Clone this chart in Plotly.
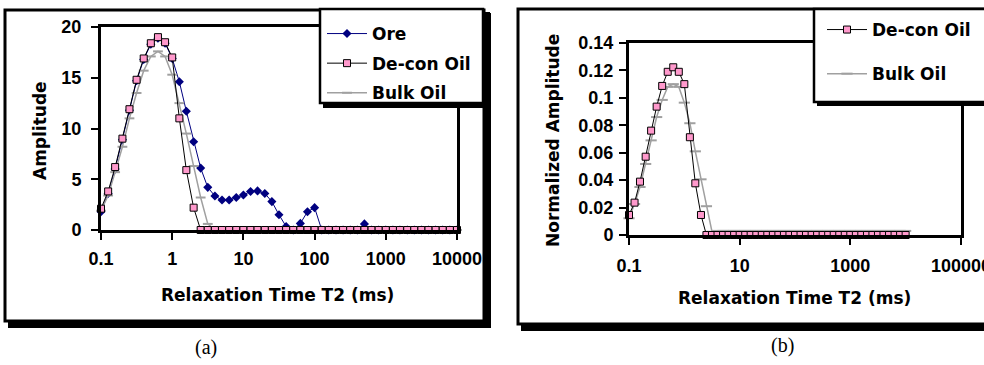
import plotly.graph_objects as go

W, H = 984, 365

# ---------------- data ----------------
T2_MS = [0.1, 0.126, 0.158, 0.2, 0.251, 0.316, 0.398, 0.501, 0.631, 0.794,
         1, 1.26, 1.58, 2, 2.51, 3.16, 3.98, 5.01, 6.31, 7.94,
         10, 12.6, 15.8, 20, 25.1, 31.6, 39.8, 50.1, 63.1, 79.4,
         100, 126, 158, 200, 251, 316, 398, 501, 631, 794,
         1000, 1260, 1580, 2000, 2510, 3160, 3980, 5010, 6310, 7940,
         10000]

ORE_A = [1.8, 3.6, 6.0, 8.9, 11.8, 14.7, 16.8, 18.3, 18.9, 18.4,
         16.9, 14.6, 11.7, 8.7, 6.1, 4.2, 3.35, 2.95, 2.95, 3.2,
         3.45, 3.8, 3.85, 3.6, 2.8, 1.5, 0.35, 0, 0.65, 1.8,
         2.2, 0, 0, 0, 0, 0, 0, 0.6, 0, 0,
         0, 0, 0, 0, 0, 0, 0, 0, 0, 0,
         0]
DECON_A = [2.1, 3.8, 6.2, 9.0, 11.9, 14.8, 16.9, 18.4, 19.0, 18.5,
           17.0, 11.0, 5.9, 2.2, 0, 0, 0, 0, 0, 0,
           0, 0, 0, 0, 0, 0, 0, 0, 0, 0,
           0, 0, 0, 0, 0, 0, 0, 0, 0, 0,
           0, 0, 0, 0, 0, 0, 0, 0, 0, 0,
           0]
BULK_A = [1.9, 3.4, 5.7, 8.2, 11.0, 13.5, 15.7, 17.1, 17.6, 17.1,
          15.3, 12.5, 9.5, 6.3, 3.2, 0.6, 0, 0, 0, 0,
          0, 0, 0, 0, 0, 0, 0, 0, 0, 0,
          0, 0, 0, 0, 0, 0, 0, 0, 0, 0,
          0, 0, 0, 0, 0, 0, 0, 0, 0, 0,
          0]
DECON_B = [0.0146, 0.0236, 0.0389, 0.0571, 0.0761, 0.0936, 0.1087, 0.119, 0.1223, 0.119,
           0.110, 0.0713, 0.0377, 0.0146, 0, 0, 0, 0, 0, 0,
           0, 0, 0, 0, 0, 0, 0, 0, 0, 0,
           0, 0, 0, 0, 0, 0, 0, 0, 0, 0,
           0, 0, 0, 0, 0, 0, 0, 0, 0, 0,
           0]
BULK_B = [0.0122, 0.0226, 0.035, 0.0518, 0.069, 0.086, 0.0985, 0.108, 0.110, 0.108,
          0.0965, 0.0815, 0.061, 0.0406, 0.021, 0.0024, 0.003, 0.003, 0.003, 0.003,
          0.003, 0.003, 0.003, 0.003, 0.003, 0.003, 0.003, 0.003, 0.003, 0.003,
          0.003, 0.003, 0.003, 0.003, 0.003, 0.003, 0.003, 0.003, 0.003, 0.003,
          0.003, 0.003, 0.003, 0.003, 0.003, 0.003, 0.003, 0.003, 0.003, 0.003,
          0.003]

XTICKS_A = [0.1, 1, 10, 100, 1000, 10000]
XTICKTEXT_A = ["0.1", "1", "10", "100", "1000", "10000"]
YTICKS_A = [0, 5, 10, 15, 20]
XTICKS_B = [0.1, 10, 1000, 100000]
XTICKTEXT_B = ["0.1", "10", "1000", "100000"]
YTICKS_B = [0, 0.02, 0.04, 0.06, 0.08, 0.1, 0.12, 0.14]
YTICKTEXT_B = ["0", "0.02", "0.04", "0.06", "0.08", "0.1", "0.12", "0.14"]

# ---------------- styles ----------------
PINK = "#ff99cc"
NAVY = "#000080"
GRAY = "#a0a0a0"
TICKFONT = dict(family="Liberation Sans", size=18, color="black", weight="bold")
TITLEFONT = dict(family="DejaVu Sans", size=17, color="black", weight="bold")


def px(x):
    return x / W


def py(y):
    return 1 - y / H


fig = go.Figure()

# chart (a)
fig.add_trace(go.Scatter(x=T2_MS, y=ORE_A, name="Ore", mode="lines+markers",
                         line=dict(color=NAVY, width=1),
                         marker=dict(symbol="diamond", size=7, color=NAVY),
                         xaxis="x", yaxis="y", legend="legend", legendrank=1,
                         legendgroup="a1", cliponaxis=False))
fig.add_trace(go.Scatter(x=T2_MS, y=BULK_A, name="Bulk Oil", mode="lines+markers",
                         line=dict(color=GRAY, width=1.5),
                         marker=dict(symbol="line-ew", size=7, color=GRAY,
                                     line=dict(color=GRAY, width=2)),
                         xaxis="x", yaxis="y", legend="legend", legendrank=3,
                         legendgroup="a3", cliponaxis=False))
fig.add_trace(go.Scatter(x=T2_MS, y=DECON_A, name="De-con Oil", mode="lines+markers",
                         line=dict(color="black", width=1),
                         marker=dict(symbol="square", size=7, color=PINK,
                                     line=dict(color="black", width=1)),
                         xaxis="x", yaxis="y", legend="legend", legendrank=2,
                         legendgroup="a2", cliponaxis=False))

# chart (b)
fig.add_trace(go.Scatter(x=T2_MS, y=BULK_B, name="Bulk Oil", mode="lines+markers",
                         line=dict(color=GRAY, width=1.5),
                         marker=dict(symbol="line-ew", size=8, color=GRAY,
                                     line=dict(color=GRAY, width=2)),
                         xaxis="x2", yaxis="y2", legend="legend2", legendrank=2,
                         legendgroup="b2", cliponaxis=False))
fig.add_trace(go.Scatter(x=T2_MS, y=DECON_B, name="De-con Oil", mode="lines+markers",
                         line=dict(color="black", width=1),
                         marker=dict(symbol="square", size=7, color=PINK,
                                     line=dict(color="black", width=1)),
                         xaxis="x2", yaxis="y2", legend="legend2", legendrank=1,
                         legendgroup="b1", cliponaxis=False))

axis_common = dict(showline=True, mirror=True, linecolor="black", linewidth=3,
                   ticks="outside", ticklen=7, tickwidth=2, tickcolor="black",
                   showgrid=False, zeroline=False, tickfont=TICKFONT,
                   fixedrange=True, automargin=False, ticklabeloverflow="allow")

fig.update_layout(
    template="none",
    width=W, height=H,
    margin=dict(l=0, r=0, t=0, b=0, pad=0, autoexpand=False),
    paper_bgcolor="white",
    plot_bgcolor="rgba(0,0,0,0)",
    xaxis=dict(type="log", range=[-1, 4], domain=[px(101), px(457)], anchor="y",
               tickmode="array", tickvals=XTICKS_A, ticktext=XTICKTEXT_A,
               ticklabelstandoff=3, **axis_common),
    yaxis=dict(range=[0, 20], domain=[py(230), py(27)], anchor="x",
               tickmode="array", tickvals=YTICKS_A,
               ticklabelstandoff=6, **axis_common),
    xaxis2=dict(type="log", range=[-1, 5.0005], domain=[px(629), px(961)], anchor="y2",
                tickmode="array", tickvals=XTICKS_B, ticktext=XTICKTEXT_B,
                ticklabelstandoff=5, **axis_common),
    yaxis2=dict(range=[0, 0.14], domain=[py(235), py(43)], anchor="x2",
                tickmode="array", tickvals=YTICKS_B, ticktext=YTICKTEXT_B,
                ticklabelstandoff=2, **axis_common),
    legend=dict(x=px(322), y=py(16), xanchor="left", yanchor="top",
                bgcolor="rgba(0,0,0,0)", borderwidth=0,
                font=TITLEFONT, traceorder="grouped", tracegroupgap=4.5,
                itemwidth=40),
    legend2=dict(x=px(822), y=py(12), xanchor="left", yanchor="top",
                 bgcolor="rgba(0,0,0,0)", borderwidth=0,
                 font=TITLEFONT, traceorder="grouped", tracegroupgap=19,
                 itemwidth=40),
    showlegend=True,
)

shapes = []


def rect(x0, y0, x1, y1, layer, fill=None, lw=0):
    d = dict(type="rect", xref="paper", yref="paper",
             x0=px(x0), x1=px(x1), y0=py(y1), y1=py(y0), layer=layer)
    d["fillcolor"] = fill if fill else "rgba(0,0,0,0)"
    d["line"] = dict(color="black", width=lw) if lw else dict(width=0)
    return d


# outer frames with shadow
shapes.append(rect(8, 13, 491, 328, "below", fill="black"))
shapes.append(rect(5, 10, 484, 321, "below", fill="white", lw=3))
shapes.append(rect(521, 12, 1000, 331, "below", fill="black"))
shapes.append(rect(518, 9, 995, 324, "below", fill="white", lw=3))
# legend boxes with shadow
shapes.append(rect(323, 12, 490, 108, "above", fill="black"))
shapes.append(rect(320, 9, 483, 103, "above", fill="white", lw=2.5))
shapes.append(rect(817, 12, 1000, 106, "above", fill="black"))
shapes.append(rect(814, 9, 995, 102, "above", fill="white", lw=2.5))
fig.update_layout(shapes=shapes)

ann = []
ann.append(dict(text="Amplitude", x=px(40), y=py(131), textangle=-90, font=TITLEFONT))
ann.append(dict(text="Relaxation Time T2 (ms)", x=px(277), y=py(295), font=TITLEFONT))
ann.append(dict(text="Normalized Amplitude", x=px(553), y=py(141), textangle=-90, font=TITLEFONT))
ann.append(dict(text="Relaxation Time T2 (ms)", x=px(794), y=py(298), font=TITLEFONT))
ann.append(dict(text="(a)", x=px(206), y=py(347),
                font=dict(family="Liberation Serif", size=20, color="black")))
ann.append(dict(text="(b)", x=px(782), y=py(345),
                font=dict(family="Liberation Serif", size=20, color="black")))
for a in ann:
    a.update(xref="paper", yref="paper", showarrow=False, xanchor="center", yanchor="middle")
fig.update_layout(annotations=ann)

fig.write_html("out.html",
               config={"displayModeBar": False, "staticPlot": True},
               post_script="document.body.style.margin='0px';document.body.style.overflow='hidden';")
